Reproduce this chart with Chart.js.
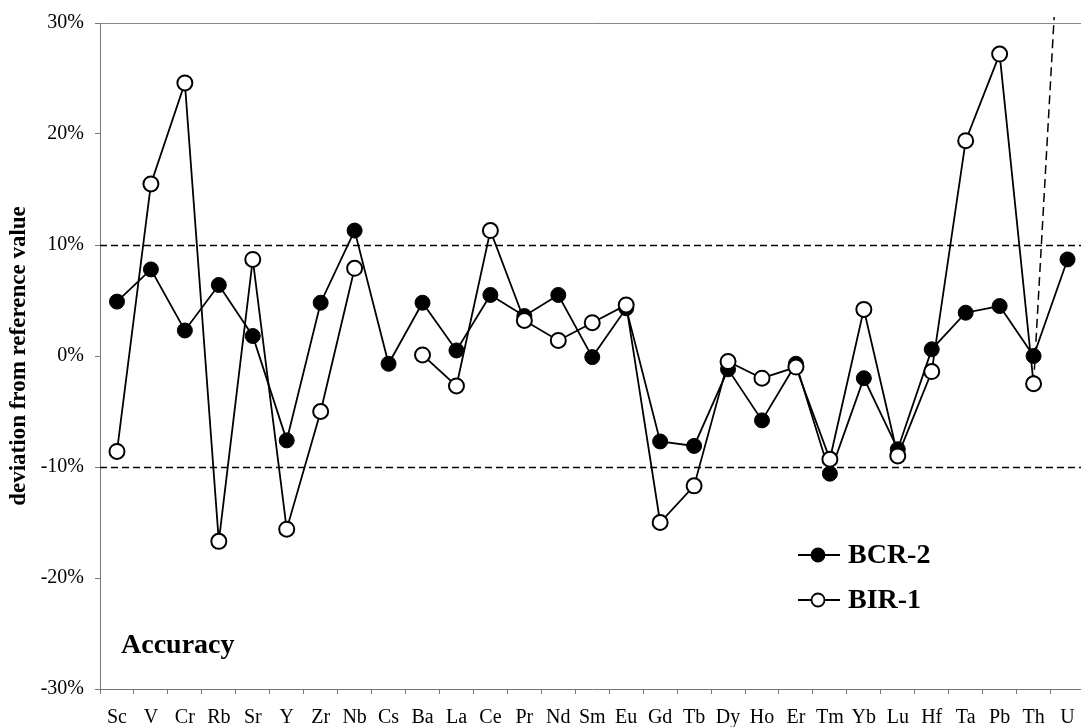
<!DOCTYPE html>
<html>
<head>
<meta charset="utf-8">
<title>Accuracy</title>
<script src="https://cdn.jsdelivr.net/npm/chart.js@4/dist/chart.umd.min.js"></script>
<style>
  html, body { margin: 0; padding: 0; background: #fff; overflow: hidden; }
  #chart { display: block; }
</style>
</head>
<body>
<canvas id="chart" width="1094" height="727"></canvas>
<script>
// element labels along the x axis
const elements = ["Sc","V","Cr","Rb","Sr","Y","Zr","Nb","Cs","Ba","La","Ce","Pr","Nd","Sm","Eu","Gd","Tb","Dy","Ho","Er","Tm","Yb","Lu","Hf","Ta","Pb","Th","U"];

// deviation from reference value, in %
const bcr2 = [4.9, 7.8, 2.3, 6.4, 1.8, -7.6, 4.8, 11.3, -0.7, 4.8, 0.5, 5.5, 3.6, 5.5, -0.1, 4.3, -7.7, -8.1, -1.2, -5.8, -0.7, -10.6, -2.0, -8.4, 0.6, 3.9, 4.5, 0.0, 8.7];
const bir1 = [-8.6, 15.5, 24.6, -16.7, 8.7, -15.6, -5.0, 7.9, null, 0.1, -2.7, 11.3, 3.2, 1.4, 3.0, 4.6, -15.0, -11.7, -0.5, -2.0, -1.0, -9.3, 4.2, -9.0, -1.4, 19.4, 27.2, -2.5, 52];

const seriesNames = ["BCR-2", "BIR-1"];
const yMin = -30, yMax = 30, yStep = 10;
const refLines = [10, -10];
const panelLabel = "Accuracy";
const yTitle = "deviation from reference value";

const serif = "'Liberation Serif', 'Times New Roman', serif";
Chart.defaults.font.family = serif;
Chart.defaults.color = "#000";

const lastIdx = elements.length - 1;

// dashed +/-10% lines, top frame, legend and panel label
const decorations = {
  id: "decorations",
  beforeDatasetsDraw(chart) {
    const { ctx, chartArea, scales } = chart;
    ctx.save();
    ctx.strokeStyle = "#000";
    ctx.lineWidth = 1.5;
    ctx.setLineDash([7, 4]);
    refLines.forEach(v => {
      const y = Math.round(scales.y.getPixelForValue(v)) + 0.5;
      ctx.beginPath();
      ctx.moveTo(chartArea.left, y);
      ctx.lineTo(chartArea.right, y);
      ctx.stroke();
    });
    ctx.setLineDash([]);
    ctx.strokeStyle = "#888";
    ctx.lineWidth = 1;
    const top = Math.round(chartArea.top) + 0.5;
    ctx.beginPath();
    ctx.moveTo(chartArea.left, top);
    ctx.lineTo(chartArea.right, top);
    ctx.stroke();
    ctx.restore();
  },
  afterDraw(chart) {
    const { ctx } = chart;
    ctx.save();
    chart.data.datasets.forEach((ds, i) => {
      const y = 555 + i * 45;
      ctx.strokeStyle = "#000";
      ctx.lineWidth = 1.8;
      ctx.beginPath();
      ctx.moveTo(798, y);
      ctx.lineTo(840, y);
      ctx.stroke();
      ctx.beginPath();
      ctx.arc(818, y, 6.5, 0, Math.PI * 2);
      ctx.fillStyle = ds.pointBackgroundColor;
      ctx.fill();
      ctx.lineWidth = 1.8;
      ctx.stroke();
      ctx.fillStyle = "#000";
      ctx.font = "bold 28px " + serif;
      ctx.textBaseline = "middle";
      ctx.textAlign = "left";
      ctx.fillText(ds.label, 848, y + 1);
    });
    ctx.font = "bold 28px " + serif;
    ctx.textBaseline = "alphabetic";
    ctx.fillText(panelLabel, 121, 653);
    ctx.restore();
  }
};

new Chart(document.getElementById("chart"), {
  type: "line",
  data: {
    labels: elements,
    datasets: [
      {
        label: seriesNames[0],
        data: bcr2,
        order: 1,
        borderColor: "#000",
        borderWidth: 1.8,
        pointRadius: 7.5,
        pointBackgroundColor: "#000",
        pointBorderColor: "#000",
        pointBorderWidth: 1,
        tension: 0,
        spanGaps: false
      },
      {
        label: seriesNames[1],
        data: bir1,
        order: 0,
        borderColor: "#000",
        borderWidth: 1.8,
        pointRadius: 7.5,
        pointBackgroundColor: "#fff",
        pointBorderColor: "#000",
        pointBorderWidth: 2,
        tension: 0,
        spanGaps: false,
        clip: { left: 5, top: 6, right: 5, bottom: 5 },
        segment: {
          borderDash: c => c.p1DataIndex === lastIdx ? [9, 5] : undefined,
          borderWidth: c => c.p1DataIndex === lastIdx ? 1.5 : undefined
        }
      }
    ]
  },
  options: {
    responsive: false,
    animation: false,
    events: [],
    layout: { padding: { top: 19, right: 1, left: 0, bottom: 0 } },
    plugins: {
      legend: { display: false },
      tooltip: { enabled: false }
    },
    scales: {
      x: {
        type: "category",
        offset: true,
        grid: { offset: true, drawOnChartArea: false, tickLength: 5, color: "#777" },
        border: { color: "#777", width: 1 },
        ticks: { font: { size: 20 }, padding: 12, maxRotation: 0, autoSkip: false },
        afterFit: s => { s.height = 38; }
      },
      y: {
        min: yMin,
        max: yMax,
        grid: { drawOnChartArea: false, tickLength: 5, color: "#777" },
        border: { color: "#777", width: 1 },
        ticks: { stepSize: yStep, font: { size: 20 }, padding: 11, callback: v => v + "%" },
        title: {
          display: true,
          text: yTitle,
          font: { size: 23, weight: "bold" },
          padding: { top: 5, bottom: 0 }
        },
        afterFit: s => { s.width = 100; }
      }
    }
  },
  plugins: [decorations]
});
</script>
</body>
</html>
